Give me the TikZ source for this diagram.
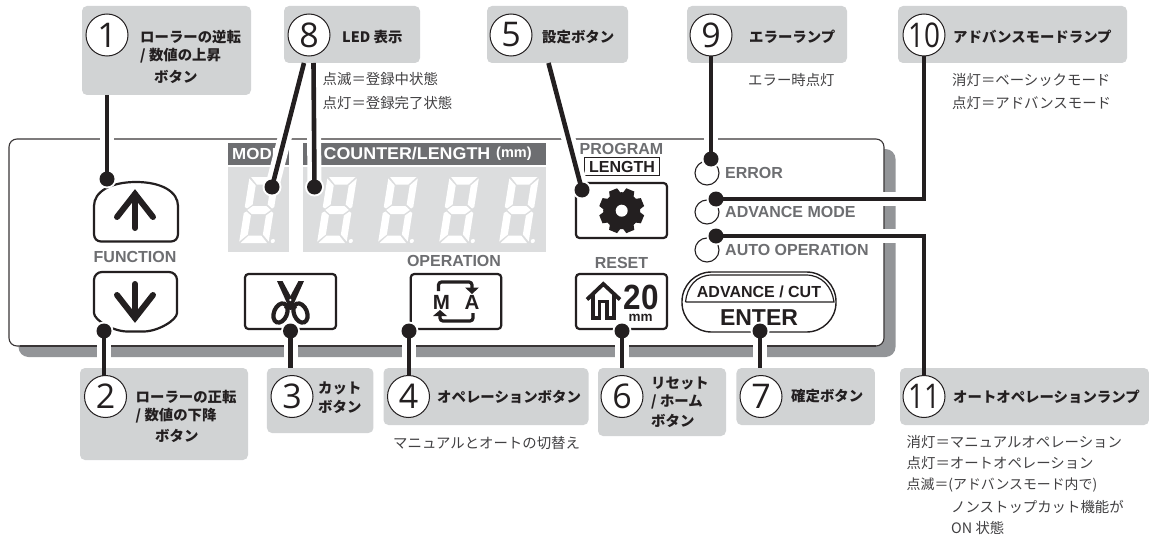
\documentclass[tikz,border=0pt]{standalone}
\usepackage{fontspec}
\setmainfont{Noto Sans CJK JP}
\newfontfamily\arial{Liberation Sans}
\newfontfamily\numf{Open Sans}
\usetikzlibrary{calc}
\definecolor{boxgrey}{HTML}{D1D3D4}
\definecolor{ledgrey}{HTML}{DCDDDE}
\definecolor{bandgrey}{HTML}{6D6E71}
\definecolor{shadowgrey}{HTML}{939598}
\definecolor{ink}{HTML}{231F20}
\definecolor{txt}{HTML}{414042}
\newcommand\fsz[1]{\fontsize{#1}{#1}\selectfont}
\newcommand\leddigit[2]{%
  \begin{scope}[shift={(#1,#2)},xslant=.16]
    \fill[white] (1.5,-66)--(28,-66)--(21,-58.5)--(8.5,-58.5)--cycle;
    \fill[white] (1.5,0)--(28,0)--(21,-7.5)--(8.5,-7.5)--cycle;
    \fill[white] (3,-33)--(8,-37)--(21.5,-37)--(26.5,-33)--(21.5,-29)--(8,-29)--cycle;
    \fill[white] (0,-64.5)--(7.5,-57.5)--(7.5,-38.5)--(2.5,-34.5)--(0,-36)--cycle;
    \fill[white] (29.5,-64.5)--(22.5,-57.5)--(22.5,-38.5)--(27.5,-34.5)--(29.5,-36)--cycle;
    \fill[white] (0,-1.5)--(7.5,-8.5)--(7.5,-27.5)--(2.5,-31.5)--(0,-30)--cycle;
    \fill[white] (29.5,-1.5)--(22.5,-8.5)--(22.5,-27.5)--(27.5,-31.5)--(29.5,-30)--cycle;
    \fill[white] (33.5,-2) circle (2.1);
  \end{scope}}
\tikzset{
  x=1pt,y=-1pt,
  callout/.style={fill=boxgrey,rounded corners=5pt,inner sep=0pt,outer sep=0pt},
  numc/.style={circle,draw=ink,fill=white,line width=1pt,minimum size=42pt,inner sep=0pt,outer sep=0pt,font=\numf\fsz{34}\color{ink}},
  head/.style={anchor=west,inner sep=0pt,font=\bfseries\fsz{14.4}\color{ink}},
  note/.style={anchor=west,inner sep=0pt,font=\fsz{14.4}\color{txt}},
  plabel/.style={inner sep=0pt,font=\arial\bfseries\fsz{16}\color{bandgrey}},
  keybox/.style={draw=ink,line width=2.2pt,rounded corners=3.5pt,fill=white,inner sep=0pt},
  halo/.style={draw=white,line width=14pt},
  leader/.style={draw=ink,line width=4.6pt},
  dotm/.style={circle,fill=ink,minimum size=15pt,inner sep=0pt,outer sep=0pt},
  glyph/.style={draw=ink,line width=6pt,line cap=round,miter limit=10},
}
\begin{document}
\begin{tikzpicture}
\useasboundingbox (0,0) rectangle (1149,535);
% panel and shadow
\fill[shadowgrey,rounded corners=10pt] (18.5,149) rectangle (895.5,357);
\filldraw[fill=white,draw=ink!90,line width=1.1pt,rounded corners=8pt] (9,139) rectangle (884,346);
\draw[ink!90,line width=2pt] (20,346) -- (876,346);
% display bands
\fill[bandgrey] (227.5,143) rectangle (288.6,165);
\fill[bandgrey] (303.4,143) rectangle (546,165);
\fill[ledgrey] (227.5,167) rectangle (288.6,252);
\fill[ledgrey] (303.4,167) rectangle (546,252);
\node[inner sep=0pt,anchor=west,xscale=1.06,font=\arial\bfseries\fsz{16}\color{white}] (tmode) at (232,154) {MODE};
\node[inner sep=0pt,anchor=west,xscale=1.05,font=\arial\bfseries\fsz{17}\color{white}] (tcnt) at (323.5,154) {COUNTER/LENGTH};
\node[inner sep=0pt,anchor=west,font=\arial\bfseries\fsz{14.5}\color{white}] (tmm) at (496,153.5) {(mm)};
\leddigit{239}{243}
\leddigit{317}{243}
\leddigit{378}{243}
\leddigit{439}{243}
\leddigit{499}{243}
% panel labels
\node[plabel] (tfunc) at (135,257) {FUNCTION};
\node[plabel] (toper) at (454,260.5) {OPERATION};
\node[plabel] (treset) at (621.5,263) {RESET};
\node[plabel] (tprog) at (621.5,148.5) {PROGRAM};
\node[draw=ink,line width=1pt,minimum width=74.5pt,minimum height=18.5pt,inner sep=0pt,font=\arial\bfseries\fsz{16}\color{ink}] (tlen) at (622,166.5) {LENGTH};
\node[plabel,anchor=west] (terr) at (725,173) {ERROR};
\node[plabel,anchor=west] (tadv) at (725,212) {ADVANCE MODE};
\node[plabel,anchor=west] (tauto) at (725,249.5) {AUTO OPERATION};
% up button
\draw[ink,line width=2.2pt] (94,206) .. controls (94,192) and (110,182) .. (136,182) .. controls (162,182) and (178,192) .. (178,206) -- (178,234) .. controls (178,238.5) and (175,241.5) .. (171,241.5) -- (101,241.5) .. controls (97,241.5) and (94,238.5) .. (94,234) -- cycle;
\draw[glyph] (135,228) -- (135,194);
\draw[glyph] (117,217) -- (135,194) -- (153,217);
% down button
\draw[ink,line width=2.2pt,rounded corners=8pt] (94,272) -- (177,272) -- (177,305) .. controls (177,320) and (158,331.5) .. (135.5,331.5) .. controls (113,331.5) and (94,320) .. (94,305) -- cycle;
\draw[glyph] (135,284) -- (135,318);
\draw[glyph] (117,295) -- (135,318) -- (153,295);
% scissors button
\node[keybox,minimum width=91pt,minimum height=55pt] (kcut) at (290.5,301.5) {};
\fill[ink] (277,281) -- (282.5,281) -- (297,308) -- (290,310) -- cycle;
\fill[ink] (304,281) -- (298.5,281) -- (284,308) -- (291,310) -- cycle;
\draw[ink,line width=4.2pt] (280.5,313) ellipse [x radius=6.5,y radius=10,rotate=-22];
\draw[ink,line width=4.2pt] (300.5,313) ellipse [x radius=6.5,y radius=10,rotate=22];
\fill[white] (290.3,300) circle (1.3);
% M/A button
\node[keybox,minimum width=90.5pt,minimum height=55pt] (kma) at (456,301.5) {};
\node[inner sep=0pt,font=\arial\bfseries\fsz{20.5}\color{ink}] (tm) at (441.5,302) {M};
\node[inner sep=0pt,font=\arial\bfseries\fsz{20.5}\color{ink}] (ta) at (472,302) {A};
\draw[ink,line width=3.2pt,rounded corners=3pt] (438.5,291) -- (438.5,282) -- (472,282) -- (472,288);
\fill[ink] (465,287.5) -- (479,287.5) -- (472,294) -- cycle;
\draw[ink,line width=3.2pt,rounded corners=3pt] (473,313) -- (473,321) -- (440,321) -- (440,315);
\fill[ink] (433,316) -- (447,316) -- (440,310) -- cycle;
% gear button
\node[keybox,minimum width=91pt,minimum height=55pt] (kgear) at (621.5,210.5) {};
\fill[ink] (621.7,210.7) circle (18.5);
\foreach \a in {22.5,67.5,...,337.5}
  \fill[ink,shift={(621.7,210.7)},rotate=\a] (-6,-16) -- (-4.3,-22.5) -- (4.3,-22.5) -- (6,-16) -- cycle;
\fill[white] (621.7,210.7) circle (6);
% reset button
\node[keybox,minimum width=91pt,minimum height=55pt] (kreset) at (621.5,301.5) {};
\draw[ink,line width=3.8pt,miter limit=10] (587,299.5) -- (603.3,284) -- (620,299.5);
\draw[ink,line width=3.6pt] (592.8,295) -- (592.8,318) -- (599.5,318) -- (599.5,301.5) -- (607,301.5) -- (607,318) -- (613.8,318) -- (613.8,295);
\node[inner sep=0pt,xscale=.9,font=\arial\bfseries\fsz{35}\color{ink}] (t20) at (641.5,297.5) {20};
\node[inner sep=0pt,anchor=base,font=\arial\bfseries\fsz{13.5}\color{ink}] (tmmb) at (640.5,321.5) {mm};
% enter button
\node[draw=ink,line width=1.4pt,rounded corners=29.5pt,fill=white,minimum width=154pt,minimum height=60pt,inner sep=0pt] (kenter) at (759,302) {};
\draw[ink,line width=1.2pt] (685.5,302) -- (834,302) .. controls (832,287) and (822,275) .. (806,275) -- (712,275) .. controls (696,275) and (687,287) .. (685.5,302);
\node[inner sep=0pt,font=\arial\bfseries\fsz{16}\color{ink}] (tadvc) at (759,292) {ADVANCE / CUT};
\node[inner sep=0pt,font=\arial\bfseries\fsz{23}\color{ink}] (tenter) at (759,317.5) {ENTER};
% lamps
\node[circle,draw=ink,line width=1.1pt,minimum size=24pt,inner sep=0pt] (l1) at (707,173) {};
\node[circle,draw=ink,line width=1.1pt,minimum size=24pt,inner sep=0pt] (l2) at (707,212) {};
\node[circle,draw=ink,line width=1.1pt,minimum size=24pt,inner sep=0pt] (l3) at (707,250) {};
% white casings round the leaders
\coordinate (p1) at (107,179); \coordinate (p8a) at (272,187); \coordinate (p8b) at (314.5,187);
\coordinate (p5) at (582,190); \coordinate (p9) at (711,159); \coordinate (p10) at (716,199);
\coordinate (p11) at (716,236); \coordinate (p2) at (104,331); \coordinate (p3) at (290.5,331);
\coordinate (p4) at (409,331); \coordinate (p6) at (622,331); \coordinate (p7) at (760,331);
\coordinate (s8a) at (304,63); \coordinate (s8b) at (313.5,63); \coordinate (s5) at (548.5,63);
\foreach \c in {p1,p8a,p8b,p5,p9,p10,p11,p2,p3,p4,p6,p7}
  \fill[white] (\c) circle (9.5);
\draw[halo] (107,95) -- (p1);
\draw[halo] (s8a) -- (p8a);
\draw[halo] (s8b) -- (p8b);
\draw[halo] (s5) -- (p5);
\draw[halo] (711,63) -- (p9);
\draw[halo] (924,63) -- (924,199) -- (p10);
\draw[halo] (p11) -- (924,236) -- (924,368);
\draw[halo] (p2) -- (104,368);
\draw[halo] (p3) -- (290.5,368);
\draw[halo] (p4) -- (409,368);
\draw[halo] (p6) -- (622,368);
\draw[halo] (p7) -- (760,368);
% callout boxes
\node[callout,minimum width=169pt,minimum height=89pt] (b1) at (166.5,50.5) {};
\node[callout,minimum width=136pt,minimum height=57pt] (b8) at (352,34.5) {};
\node[callout,minimum width=141pt,minimum height=57pt] (b5) at (557.5,34.5) {};
\node[callout,minimum width=160pt,minimum height=57pt] (b9) at (767,34.5) {};
\node[callout,minimum width=229pt,minimum height=57pt] (b10) at (1012.5,34.5) {};
\node[callout,minimum width=168pt,minimum height=92pt] (b2) at (164,414) {};
\node[callout,minimum width=106.5pt,minimum height=65pt] (b3) at (320.2,400.5) {};
\node[callout,minimum width=205pt,minimum height=57pt] (b4) at (486,396.5) {};
\node[callout,minimum width=128pt,minimum height=68pt] (b6) at (662,402) {};
\node[callout,minimum width=138.5pt,minimum height=57pt] (b7) at (805.7,396.5) {};
\node[callout,minimum width=249pt,minimum height=57pt] (b11) at (1024.5,396.5) {};
% dots
\node[dotm] (dot1) at (p1) {};
\node[dotm] (dot8a) at (p8a) {};
\node[dotm] (dot8b) at (p8b) {};
\node[dotm] (dot5) at (p5) {};
\node[dotm] (dot9) at (p9) {};
\node[dotm] (dot10) at (p10) {};
\node[dotm] (dot11) at (p11) {};
\node[dotm] (dot2) at (p2) {};
\node[dotm] (dot3) at (p3) {};
\node[dotm] (dot4) at (p4) {};
\node[dotm] (dot6) at (p6) {};
\node[dotm] (dot7) at (p7) {};
% number circles
\node[numc] (c1) at (107,35) {1};
\node[numc] (c8) at (309,35) {8};
\node[numc] (c5) at (511,35) {5};
\node[numc] (c9) at (711,35) {9};
\node[numc] (c10) at (924,35) {\scalebox{.82}[1]{10}};
\node[numc] (c2) at (105.5,396.5) {2};
\node[numc] (c3) at (292,396.5) {3};
\node[numc] (c4) at (408.5,396.5) {4};
\node[numc] (c6) at (622,396.5) {6};
\node[numc] (c7) at (761,396.5) {7};
\node[numc] (c11) at (924,396.5) {\scalebox{.82}[1]{11}};
% leaders
\draw[leader] (b1.south -| dot1) -- (dot1.center);
\draw[leader] (s8a) -- (dot8a.center);
\draw[leader] (s8b) -- (dot8b.center);
\draw[leader] (s5) -- (dot5.center);
\draw[leader] (c9.south) -- (dot9.center);
\draw[leader,miter limit=10] (c10.south) -- (c10.south |- dot10) -- (dot10.center);
\draw[leader,miter limit=10] (dot11.center) -- (dot11 -| c11) -- (c11.north);
\draw[leader] (dot2.center) -- (dot2 |- c2.north);
\draw[leader] (dot3.center) -- (dot3 |- b3.north);
\draw[leader] (dot4.center) -- (dot4 |- c4.north);
\draw[leader] (dot6.center) -- (dot6 |- b6.north);
\draw[leader] (dot7.center) -- (dot7 |- b7.north);
% callout headings
\node[head] at (140,37) {ローラーの逆転};
\node[head] at (140,56) {/ 数値の上昇};
\node[head] at (154,77) {ボタン};
\node[head] at (342,37) {LED 表示};
\node[head] at (542,37) {設定ボタン};
\node[head] at (749,37) {エラーランプ};
\node[head] at (953,37) {アドバンスモードランプ};
\node[head] at (135.5,397) {ローラーの正転};
\node[head] at (135.5,416) {/ 数値の下降};
\node[head] at (155,436) {ボタン};
\node[head] at (318,388) {カット};
\node[head] at (318,407) {ボタン};
\node[head] at (437,396.5) {オペレーションボタン};
\node[head] at (651,383) {リセット};
\node[head] at (651,402) {/ ホーム};
\node[head] at (651,421) {ボタン};
\node[head] at (791,396.5) {確定ボタン};
\node[head] at (953,396.5) {オートオペレーションランプ};
% notes
\node[note] at (322.5,79) {点滅＝登録中状態};
\node[note] at (322.5,103) {点灯＝登録完了状態};
\node[note] at (748,80) {エラー時点灯};
\node[note] at (952,80) {消灯＝ベーシックモード};
\node[note] at (952,103) {点灯＝アドバンスモード};
\node[note] at (393,443) {マニュアルとオートの切替え};
\node[note] at (906.5,442) {消灯＝マニュアルオペレーション};
\node[note] at (906.5,463) {点灯＝オートオペレーション};
\node[note,font=\fsz{13.9}\color{txt}] at (906.5,485) {点滅＝(アドバンスモード内で)};
\node[note] at (951,507) {ノンストップカット機能が};
\node[note] at (951,528) {ON 状態};
\end{tikzpicture}
\end{document}
